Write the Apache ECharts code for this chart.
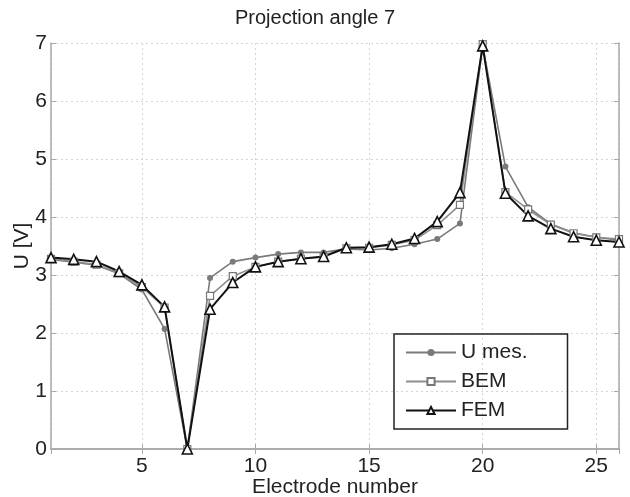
<!DOCTYPE html>
<html lang="en">
<head>
    <meta charset="UTF-8">
    <title>Projection angle 7</title>
    <script type="text/javascript" src="https://cdn.jsdelivr.net/npm/echarts@6/dist/echarts.min.js"></script>
</head>
<body style="margin:0">
<div id="main" style="width: 630px;height:497px;"></div>

<script type="text/javascript">
    var electrodes = [1, 2, 3, 4, 5, 6, 7, 8, 9, 10, 11, 12, 13, 14, 15, 16, 17, 18, 19, 20, 21, 22, 23, 24, 25, 26];
    var uMes = [3.27, 3.22, 3.17, 3.02, 2.75, 2.07, 0, 2.95, 3.23, 3.30, 3.36, 3.39, 3.39, 3.45, 3.43, 3.46, 3.53, 3.62, 3.89, 6.95, 4.87, 4.17, 3.88, 3.73, 3.65, 3.60];
    var bem = [3.28, 3.23, 3.18, 3.03, 2.79, 2.44, 0, 2.64, 2.98, 3.14, 3.23, 3.28, 3.31, 3.46, 3.47, 3.52, 3.60, 3.86, 4.21, 6.98, 4.43, 4.13, 3.87, 3.72, 3.65, 3.62];
    var fem = [3.30, 3.27, 3.23, 3.06, 2.83, 2.45, 0, 2.41, 2.87, 3.14, 3.23, 3.28, 3.32, 3.47, 3.48, 3.53, 3.63, 3.92, 4.42, 6.95, 4.41, 4.02, 3.80, 3.66, 3.60, 3.57];

    var myChart = echarts.init(document.getElementById('main'));

    var pairs = function (ys) {
        var res = [];
        for (let i = 0; i < electrodes.length; i++) {
            res.push([electrodes[i], ys[i]]);
        }
        return res;
    };

    var font = 'Liberation Sans';
    var boxColor = '#a8a8a8';

    var option = {
        animation: false,
        backgroundColor: '#fff',
        title: {
            text: 'Projection angle 7',
            left: 'center',
            top: 3,
            textStyle: {color: '#222', fontSize: 20, fontWeight: 'normal', fontFamily: font}
        },
        legend: {
            orient: 'vertical',
            left: 394,
            top: 334,
            width: 175,
            padding: [8, 40, 8, 11],
            itemWidth: 50,
            itemHeight: 9,
            itemGap: 8,
            borderColor: '#222',
            borderWidth: 1.5,
            textStyle: {color: '#222', fontSize: 21, fontFamily: font},
            data: ['U mes.', 'BEM', 'FEM']
        },
        grid: {left: 51, right: 11, top: 43, bottom: 48, outerBoundsMode: 'none'},
        xAxis: [
            {
                type: 'value',
                min: 1,
                max: 26,
                splitNumber: 5,
                name: 'Electrode number',
                nameLocation: 'middle',
                nameGap: 28,
                nameMoveOverlap: false,
                nameTextStyle: {color: '#222', fontSize: 21, fontFamily: font},
                axisLine: {lineStyle: {color: boxColor, width: 1.5}},
                axisTick: {inside: true, length: 5, lineStyle: {color: boxColor}},
                axisLabel: {
                    color: '#222', fontSize: 21, fontFamily: font, margin: 7,
                    showMinLabel: false, showMaxLabel: false
                },
                splitLine: {lineStyle: {color: '#d4d4d4', type: [2, 3]}}
            },
            {
                type: 'value',
                position: 'top',
                min: 1,
                max: 26,
                splitNumber: 5,
                axisLine: {lineStyle: {color: boxColor, width: 1.5}},
                axisTick: {inside: true, length: 5, lineStyle: {color: boxColor}},
                axisLabel: {show: false},
                splitLine: {show: false}
            }
        ],
        yAxis: [
            {
                type: 'value',
                min: 0,
                max: 7,
                interval: 1,
                name: 'U [V]',
                nameLocation: 'middle',
                nameGap: 18,
                nameMoveOverlap: false,
                nameTextStyle: {color: '#222', fontSize: 21, fontFamily: font, verticalAlign: 'bottom'},
                axisLine: {show: true, lineStyle: {color: boxColor, width: 1.5}},
                axisTick: {show: true, inside: true, length: 5, lineStyle: {color: boxColor}},
                axisLabel: {color: '#222', fontSize: 21, fontFamily: font, margin: 4},
                splitLine: {lineStyle: {color: '#d4d4d4', type: [2, 3]}}
            },
            {
                type: 'value',
                position: 'right',
                min: 0,
                max: 7,
                interval: 1,
                axisLine: {show: true, lineStyle: {color: boxColor, width: 1.5}},
                axisTick: {show: true, inside: true, length: 5, lineStyle: {color: boxColor}},
                axisLabel: {show: false},
                splitLine: {show: false}
            }
        ],
        series: [
            {
                name: 'U mes.',
                type: 'line',
                data: pairs(uMes),
                symbol: 'circle',
                symbolSize: 6,
                lineStyle: {color: '#7a7a7a', width: 1.6},
                itemStyle: {color: '#7a7a7a'}
            },
            {
                name: 'BEM',
                type: 'line',
                data: pairs(bem),
                symbol: 'rect',
                symbolSize: 7,
                lineStyle: {color: '#8e8e8e', width: 1.6},
                itemStyle: {color: '#fff', borderColor: '#777', borderWidth: 1.2}
            },
            {
                name: 'FEM',
                type: 'line',
                data: pairs(fem),
                symbol: 'triangle',
                symbolSize: 10,
                lineStyle: {color: '#111', width: 2},
                itemStyle: {color: '#fff', borderColor: '#111', borderWidth: 1.6}
            }
        ]
    };

    myChart.setOption(option, true);
</script>
</body>
</html>
